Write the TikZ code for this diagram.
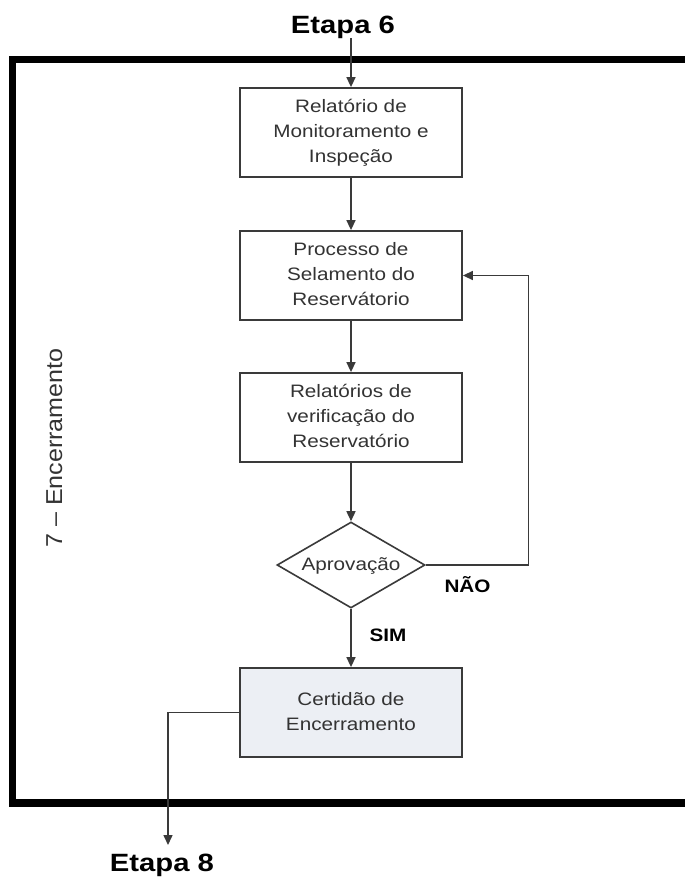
\documentclass[tikz,border=0pt]{standalone}
\usepackage{fontspec}
\setmainfont{Liberation Sans}
\usetikzlibrary{arrows.meta,shapes.geometric}
\newcommand{\widetxt}[1]{\scalebox{1.15}[1]{\begin{tabular}{@{}c@{}}#1\end{tabular}}}
\definecolor{edgec}{HTML}{3A3A3A}
\definecolor{txtc}{HTML}{333333}
\definecolor{fillb}{HTML}{ECEFF4}
\begin{document}
\begin{tikzpicture}[x=1pt,y=-1pt,
  box/.style={draw=edgec, line width=1.8pt, minimum width=222pt, minimum height=89pt, inner sep=0pt, text=txtc, font=\fontsize{18}{25}\selectfont},
  dec/.style={shape=diamond, draw=edgec, line width=1.6pt, aspect=1.72, minimum width=148pt, minimum height=86pt, inner sep=0pt, text=txtc, font=\fontsize{18}{25}\selectfont},
  conn/.style={draw=edgec, line width=1.5pt, -{Triangle[length=10pt,width=9pt]}},
  lab/.style={font=\fontsize{18}{22}\selectfont\bfseries, text=black, inner sep=0pt},
  etapa/.style={font=\fontsize{25}{30}\selectfont\bfseries, text=black, inner sep=0pt, anchor=base}
]
\clip (0,0) rectangle (685,879);
\fill[white] (0,0) rectangle (685,879);
\draw[line width=7.5pt] (12.5,59.5) rectangle (720,803);

\node[etapa] (e6) at (343,33) {\scalebox{1.17}[1]{Etapa 6}};
\node[etapa] (e8) at (162,871) {\scalebox{1.17}[1]{Etapa 8}};

\node[box] (b1) at (351,132.5) {\widetxt{Relatório de\\Monitoramento e\\Inspeção}};
\node[box] (b2) at (351,275.5) {\widetxt{Processo de\\Selamento do\\Reservátorio}};
\node[box] (b3) at (351,417.5) {\widetxt{Relatórios de\\verificação do\\Reservatório}};
\node[dec] (ap) at (351,565) {\widetxt{Aprovação}};
\node[box, fill=fillb] (b4) at (351,712.5) {\widetxt{Certidão de\\Encerramento}};

\node[lab] (nao) at (467.5,585) {\scalebox{1.15}[1]{NÃO}};
\node[lab] (sim) at (388,635) {\scalebox{1.15}[1]{SIM}};

\node[rotate=90, anchor=base, inner sep=0pt, font=\fontsize{23}{28}\selectfont, text=txtc] (lbl) at (62,448) {\scalebox{1.09}[1]{7 – Encerramento}};

\coordinate (in6) at (351,38);
\coordinate (fb) at (528.5,565);
\coordinate (ex) at (168,845);

\draw[conn] (in6) -- (b1);
\draw[conn] (b1) -- (b2);
\draw[conn] (b2) -- (b3);
\draw[conn] (b3) -- (ap);
\draw[conn] (ap.east) -- (fb) |- (b2.east);
\draw[conn] (ap) -- (b4);
\draw[conn] (b4.west) -| (ex);
\end{tikzpicture}
\end{document}
